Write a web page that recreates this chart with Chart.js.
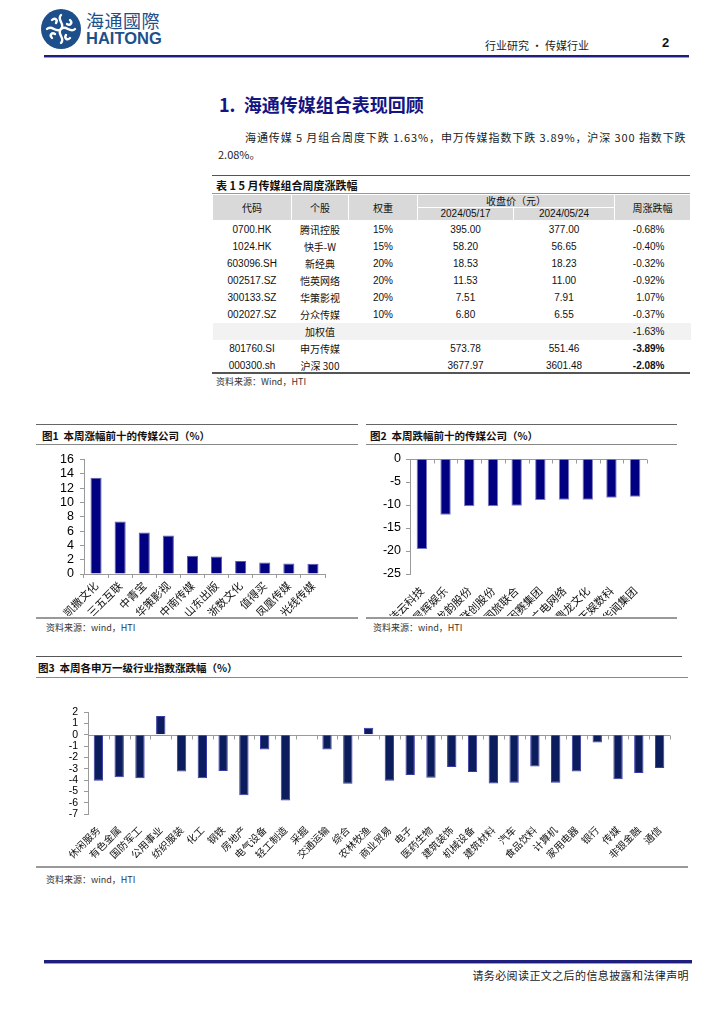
<!DOCTYPE html>
<html><head><meta charset="utf-8">
<script src="https://cdn.jsdelivr.net/npm/chart.js@4.4.1/dist/chart.umd.min.js"></script>
<style>
html,body{margin:0;padding:0;background:#fff;}
body{width:724px;height:1024px;position:relative;overflow:hidden;font-family:"Liberation Sans","Noto Sans CJK SC",sans-serif;color:#111;}
.a{position:absolute;white-space:nowrap;}
.ln{position:absolute;}
.cjk{font-family:"Noto Sans CJK SC",sans-serif;}
table.tb{position:absolute;left:212px;top:194px;width:478px;border-collapse:collapse;table-layout:fixed;font-size:10px;}
table.tb td{padding:0;height:17px;line-height:17px;text-align:center;white-space:nowrap;}
table.tb tr.h td{background:#d9d9d9;height:12px;line-height:12px;border:1px solid #fff;font-family:"Noto Sans CJK SC",sans-serif;}
table.tb tr.h td.dt{font-family:"Liberation Sans",sans-serif;}
table.tb td.r{text-align:right;padding-right:26px;}
table.tb tr.w td{background:#f2f2f2;}
table.tb td.b{font-weight:bold;}
.src{font-size:9px;color:#333;}
.ttl{font-size:10.5px;font-weight:bold;color:#111;}
</style></head><body>

<!-- header -->
<svg class="a" style="left:40px;top:8px" width="42" height="42" viewBox="0 0 42 42">
  <circle cx="21" cy="21" r="20" fill="#1d4f8b"/>
  <g fill="none" stroke="#fff" stroke-width="2.4" stroke-linecap="round">
    <path d="M21 7 C16 12 26 16 21 21 C16 26 26 30 21 35"/>
    <path d="M7 21 C12 16 16 26 21 21 C26 16 30 26 35 21"/>
    <path d="M12 12 C15 9 18 12 16 15"/>
    <path d="M30 30 C27 33 24 30 26 27"/>
    <path d="M30 12 C33 15 30 18 27 16"/>
    <path d="M12 30 C9 27 12 24 15 26"/>
  </g>
</svg>
<div class="a cjk" style="left:86px;top:9px;font-size:18px;line-height:22px;color:#1d4f8b;letter-spacing:0.5px;">海通國際</div>
<div class="a" style="left:86px;top:29px;font-size:16.5px;line-height:18px;font-weight:bold;color:#1d4f8b;">HAITONG</div>
<div class="a cjk" style="left:485px;top:37px;font-size:11px;line-height:16px;color:#222;">行业研究 · 传媒行业</div>
<div class="a" style="left:662px;top:35px;font-size:13px;line-height:16px;font-weight:bold;color:#111;">2</div>
<div class="ln" style="left:44px;top:55px;width:645px;height:2px;background:#1e1e7e;"></div>
<div class="ln" style="left:44px;top:57px;width:645px;height:1px;background:#9a9ad0;"></div>

<!-- section title -->
<div class="a cjk" style="left:219px;top:92px;font-size:18px;line-height:24px;font-weight:bold;color:#141482;">1.&nbsp; 海通传媒组合表现回顾</div>
<div class="a cjk" style="left:245px;top:129px;font-size:11px;line-height:16px;color:#222;letter-spacing:0.9px;">海通传媒 5 月组合周度下跌 1.63%，申万传媒指数下跌 3.89%，沪深 300 指数下跌</div>
<div class="a cjk" style="left:218px;top:146px;font-size:11px;line-height:16px;color:#222;">2.08%。</div>

<!-- table -->
<div class="ln" style="left:212px;top:175px;width:478px;height:1px;background:#555;"></div>
<div class="a cjk" style="left:216px;top:177px;font-size:11px;line-height:16px;font-weight:bold;">表 1 5 月传媒组合周度涨跌幅</div>
<div class="ln" style="left:212px;top:193px;width:478px;height:1px;background:#999;"></div>
<table class="tb">
<colgroup><col style="width:79px"><col style="width:57px"><col style="width:69px"><col style="width:96px"><col style="width:101px"><col style="width:76px"></colgroup>
<tr class="h"><td rowspan="2">代码</td><td rowspan="2">个股</td><td rowspan="2">权重</td><td colspan="2">收盘价（元）</td><td rowspan="2" style="text-align:center;">周涨跌幅</td></tr>
<tr class="h"><td class="dt">2024/05/17</td><td class="dt">2024/05/24</td></tr>
<tr><td>0700.HK</td><td class="cjk">腾讯控股</td><td>15%</td><td>395.00</td><td>377.00</td><td class="r">-0.68%</td></tr>
<tr><td>1024.HK</td><td class="cjk">快手-W</td><td>15%</td><td>58.20</td><td>56.65</td><td class="r">-0.40%</td></tr>
<tr><td>603096.SH</td><td class="cjk">新经典</td><td>20%</td><td>18.53</td><td>18.23</td><td class="r">-0.32%</td></tr>
<tr><td>002517.SZ</td><td class="cjk">恺英网络</td><td>20%</td><td>11.53</td><td>11.00</td><td class="r">-0.92%</td></tr>
<tr><td>300133.SZ</td><td class="cjk">华策影视</td><td>20%</td><td>7.51</td><td>7.91</td><td class="r">1.07%</td></tr>
<tr><td>002027.SZ</td><td class="cjk">分众传媒</td><td>10%</td><td>6.80</td><td>6.55</td><td class="r">-0.37%</td></tr>
<tr class="w"><td></td><td class="cjk">加权值</td><td></td><td></td><td></td><td class="r">-1.63%</td></tr>
<tr><td>801760.SI</td><td class="cjk">申万传媒</td><td></td><td>573.78</td><td>551.46</td><td class="r b">-3.89%</td></tr>
<tr><td>000300.sh</td><td class="cjk">沪深 300</td><td></td><td>3677.97</td><td>3601.48</td><td class="r b">-2.08%</td></tr>
</table>
<div class="ln" style="left:212px;top:372px;width:478px;height:2px;background:#555;"></div>
<div class="a cjk src" style="left:216px;top:375px;line-height:13px;">资料来源：Wind，HTI</div>

<!-- figure 1 -->
<div class="ln" style="left:36px;top:424px;width:322px;height:1px;background:#666;"></div>
<div class="a cjk ttl" style="left:42px;top:428px;line-height:15px;">图1&nbsp;&nbsp;本周涨幅前十的传媒公司（%）</div>
<div class="ln" style="left:36px;top:444px;width:322px;height:1px;background:#888;"></div>
<div class="a" style="left:36px;top:446px;"><canvas id="c1" width="322" height="170"></canvas></div>
<div class="ln" style="left:36px;top:617px;width:322px;height:2px;background:#999;"></div>
<div class="a cjk src" style="left:46px;top:621px;line-height:13px;">资料来源：wind，HTI</div>

<!-- figure 2 -->
<div class="ln" style="left:366px;top:424px;width:311px;height:1px;background:#666;"></div>
<div class="a cjk ttl" style="left:370px;top:428px;line-height:15px;">图2&nbsp;&nbsp;本周跌幅前十的传媒公司（%）</div>
<div class="ln" style="left:366px;top:444px;width:311px;height:1px;background:#888;"></div>
<div class="a" style="left:366px;top:446px;"><canvas id="c2" width="324" height="170"></canvas></div>
<div class="ln" style="left:366px;top:617px;width:311px;height:2px;background:#999;"></div>
<div class="a cjk src" style="left:373px;top:621px;line-height:13px;">资料来源：wind，HTI</div>

<!-- figure 3 -->
<div class="ln" style="left:36px;top:656px;width:646px;height:1px;background:#555;"></div>
<div class="a cjk ttl" style="left:38px;top:660px;line-height:15px;">图3&nbsp;&nbsp;本周各申万一级行业指数涨跌幅（%）</div>
<div class="ln" style="left:36px;top:677px;width:652px;height:1px;background:#888;"></div>
<div class="a" style="left:36px;top:680px;"><canvas id="c3" width="654" height="185"></canvas></div>
<div class="ln" style="left:36px;top:866px;width:652px;height:2px;background:#999;"></div>
<div class="a cjk src" style="left:46px;top:873px;line-height:13px;">资料来源：wind，HTI</div>

<!-- footer -->
<div class="ln" style="left:44px;top:960px;width:648px;height:3px;background:#1e1e7e;"></div>
<div class="ln" style="left:44px;top:963px;width:648px;height:1px;background:#9a9ad0;"></div>
<div class="a cjk" style="right:35px;top:967px;font-size:11px;line-height:16px;color:#222;letter-spacing:0.4px;">请务必阅读正文之后的信息披露和法律声明</div>

<script>
// ---- data ----
const topCompanies = ['凯撒文化','三五互联','中青宝','华策影视','中南传媒','山东出版','浙数文化','值得买','凤凰传媒','光线传媒'];
const topReturns = [13.45, 7.33, 5.80, 5.38, 2.55, 2.46, 1.81, 1.62, 1.48, 1.44];

const bottomCompanies = ['佳云科技','星辉娱乐','龙韵股份','联创股份','国旅联合','因赛集团','广电网络','鼎龙文化','天娱数科','华闻集团'];
const bottomReturns = [-19.55, -12.14, -10.25, -10.25, -10.17, -8.94, -8.87, -8.87, -8.43, -8.21];

const industries = ['休闲服务','有色金属','国防军工','公用事业','纺织服装','化工','钢铁','房地产','电气设备','轻工制造','采掘','交通运输','综合','农林牧渔','商业贸易','电子','医药生物','建筑装饰','机械设备','建筑材料','汽车','食品饮料','计算机','家用电器','银行','传媒','非银金融','通信'];
const industryReturns = [-4.06, -3.76, -3.85, 1.65, -3.26, -3.85, -3.2, -5.35, -1.3, -5.8, 0, -1.3, -4.32, 0.62, -4.06, -3.56, -3.8, -2.85, -3.3, -4.3, -4.24, -2.8, -4.24, -3.24, -0.7, -3.94, -3.38, -2.94];

const fig1Ticks = {min: 0, max: 16, step: 2};
const fig2Ticks = {min: -25, max: 0, step: 5};
const fig3Ticks = {min: -7, max: 2, step: 1};

// ---- zero line plugin (uses chart scales) ----
const zeroLine = {
  id: 'zeroLine',
  beforeDatasetsDraw(chart, args, opts) {
    if (!opts || !opts.show) return;
    const {ctx, chartArea, scales: {x, y}} = chart;
    const y0 = Math.round(y.getPixelForValue(0)) + 0.5;
    ctx.save();
    ctx.strokeStyle = opts.color || '#999';
    ctx.lineWidth = 1;
    ctx.beginPath();
    ctx.moveTo(chartArea.left, y0);
    ctx.lineTo(chartArea.right, y0);
    const n = chart.data.labels.length;
    for (let i = 1; i <= n; i++) {
      const px = Math.round(x.getPixelForValue(i - 0.5)) + 0.5;
      ctx.moveTo(px, y0);
      ctx.lineTo(px, y0 + 4);
    }
    ctx.stroke();
    ctx.restore();
  }
};

function makeBar(id, labels, values, ticks, o) {
  return new Chart(document.getElementById(id), {
    type: 'bar',
    data: {labels: labels, datasets: [{data: values, backgroundColor: o.bg, borderColor: o.bd, borderWidth: 1,
      barPercentage: o.bp, categoryPercentage: 1, borderSkipped: 'start'}]},
    options: {
      responsive: false, animation: false,
      layout: {padding: {top: o.pt, right: o.pr, left: 0, bottom: 0}},
      plugins: {legend: {display: false}, tooltip: {enabled: false}, zeroLine: {show: o.zero, color: '#9a9a9a'}},
      scales: {
        x: {
          ticks: {font: {family: 'Noto Sans CJK SC', size: o.xfs}, color: '#111', minRotation: 45, maxRotation: 45, autoSkip: false, padding: o.xpad},
          grid: {display: o.xgrid, drawOnChartArea: false, tickLength: 4, color: '#9a9a9a', offset: true},
          border: {display: o.xgrid, color: '#9a9a9a'},
          afterFit: s => { s.height = o.xh; }
        },
        y: {
          min: ticks.min, max: ticks.max,
          ticks: {stepSize: ticks.step, autoSkip: false, font: {family: 'Liberation Sans', size: o.yfs}, color: '#000', padding: o.ypad},
          grid: {drawOnChartArea: false, tickLength: 4, color: '#9a9a9a'},
          border: {color: '#9a9a9a'},
          afterFit: s => { s.width = o.yw; }
        }
      }
    },
    plugins: [zeroLine]
  });
}

makeBar('c1', topCompanies, topReturns, fig1Ticks,
  {bg: '#000080', bd: '#5a5aa8', bp: 0.46, pt: 13, pr: 33, xfs: 11, xpad: 1, xgrid: true, xh: 42, yfs: 12.5, ypad: 6, yw: 48, zero: false});
makeBar('c2', bottomCompanies, bottomReturns, fig2Ticks,
  {bg: '#000080', bd: '#7a7ac0', bp: 0.44, pt: 13, pr: 43, xfs: 11, xpad: 6, xgrid: false, xh: 42, yfs: 12.5, ypad: 5, yw: 44, zero: true});
makeBar('c3', industries, industryReturns, fig3Ticks,
  {bg: '#0b1d5c', bd: '#3a3aa6', bp: 0.45, pt: 32, pr: 20, xfs: 10, xpad: 6, xgrid: false, xh: 51, yfs: 10.5, ypad: 6, yw: 52, zero: true});
</script>
</body></html>
